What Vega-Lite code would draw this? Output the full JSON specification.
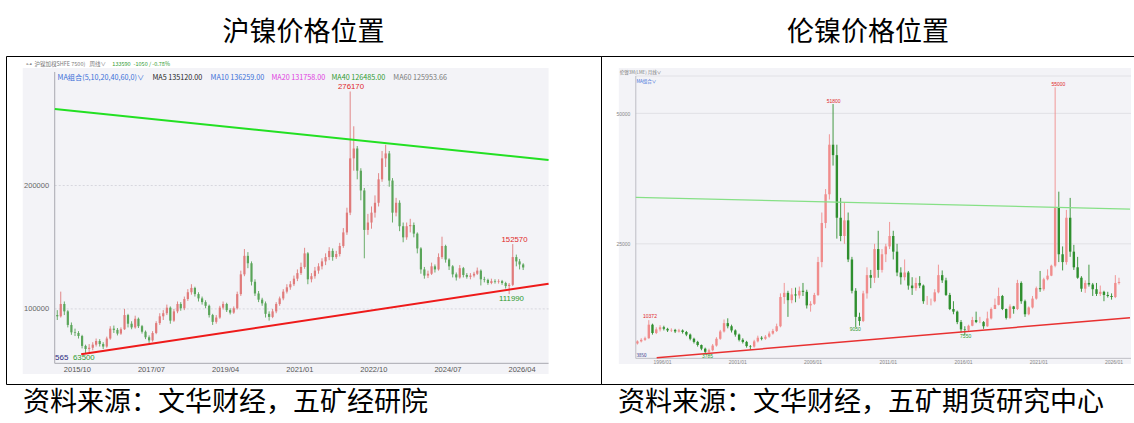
{
"$schema": "https://vega.github.io/schema/vega-lite/v6.json",
"padding": {"left": 5, "top": 9, "right": 0, "bottom": 0},
"background": "white",
"config": {"view": {"stroke": "#000", "strokeWidth": 1}, "concat": {"spacing": 0}, "axis": {"labelFont": "Liberation Sans", "zindex": 1}, "text": {"font": "Liberation Sans"}},
"datasets": {
"L": [
{"d":"2015/04/15","o":95000,"h":99000,"l":91000,"c":94000},
{"d":"2015/05/15","o":94000,"h":114000,"l":93000,"c":104000},
{"d":"2015/06/15","o":104000,"h":106000,"l":95000,"c":98000},
{"d":"2015/07/15","o":98000,"h":99000,"l":85000,"c":87000},
{"d":"2015/08/15","o":87000,"h":89000,"l":79000,"c":81000},
{"d":"2015/09/15","o":81000,"h":84000,"l":78000,"c":80500},
{"d":"2015/10/15","o":80500,"h":82000,"l":76000,"c":78000},
{"d":"2015/11/15","o":78000,"h":79000,"l":68000,"c":70000},
{"d":"2015/12/15","o":70000,"h":71000,"l":63500,"c":67500},
{"d":"2016/01/15","o":67500,"h":71500,"l":65000,"c":68500},
{"d":"2016/02/15","o":68500,"h":73000,"l":66500,"c":71000},
{"d":"2016/03/15","o":71000,"h":76000,"l":69500,"c":74000},
{"d":"2016/04/15","o":74000,"h":75500,"l":69500,"c":71500},
{"d":"2016/05/15","o":71500,"h":73000,"l":67500,"c":69500},
{"d":"2016/06/15","o":69500,"h":77500,"l":68500,"c":76000},
{"d":"2016/07/15","o":76000,"h":86000,"l":75000,"c":84000},
{"d":"2016/08/15","o":84000,"h":86500,"l":80500,"c":83000},
{"d":"2016/09/15","o":83000,"h":84500,"l":78500,"c":80000},
{"d":"2016/10/15","o":80000,"h":85000,"l":79000,"c":83500},
{"d":"2016/11/15","o":83500,"h":100000,"l":83000,"c":95000},
{"d":"2016/12/15","o":95000,"h":96000,"l":85000,"c":88000},
{"d":"2017/01/15","o":88000,"h":90000,"l":83500,"c":85000},
{"d":"2017/02/15","o":85000,"h":94500,"l":84000,"c":92000},
{"d":"2017/03/15","o":92000,"h":93000,"l":84500,"c":86000},
{"d":"2017/04/15","o":86000,"h":87000,"l":80000,"c":81500},
{"d":"2017/05/15","o":81500,"h":82500,"l":75500,"c":77000},
{"d":"2017/06/15","o":77000,"h":78500,"l":72500,"c":74500},
{"d":"2017/07/15","o":74500,"h":82000,"l":73500,"c":80500},
{"d":"2017/08/15","o":80500,"h":90000,"l":79500,"c":88500},
{"d":"2017/09/15","o":88500,"h":96500,"l":87000,"c":94000},
{"d":"2017/10/15","o":94000,"h":99000,"l":91000,"c":96500},
{"d":"2017/11/15","o":96500,"h":103500,"l":95000,"c":101000},
{"d":"2017/12/15","o":101000,"h":102000,"l":88000,"c":90500},
{"d":"2018/01/15","o":90500,"h":100000,"l":89500,"c":98000},
{"d":"2018/02/15","o":98000,"h":106000,"l":96500,"c":104000},
{"d":"2018/03/15","o":104000,"h":105500,"l":98500,"c":100500},
{"d":"2018/04/15","o":100500,"h":110000,"l":99000,"c":108000},
{"d":"2018/05/15","o":108000,"h":116000,"l":106500,"c":113500},
{"d":"2018/06/15","o":113500,"h":120000,"l":111500,"c":117000},
{"d":"2018/07/15","o":117000,"h":118000,"l":110000,"c":112000},
{"d":"2018/08/15","o":112000,"h":113500,"l":106000,"c":108500},
{"d":"2018/09/15","o":108500,"h":110000,"l":103500,"c":105500},
{"d":"2018/10/15","o":105500,"h":107000,"l":100500,"c":102500},
{"d":"2018/11/15","o":102500,"h":103500,"l":93000,"c":95000},
{"d":"2018/12/15","o":95000,"h":96000,"l":87000,"c":89500},
{"d":"2019/01/15","o":89500,"h":95000,"l":88000,"c":93000},
{"d":"2019/02/15","o":93000,"h":102500,"l":92000,"c":101000},
{"d":"2019/03/15","o":101000,"h":106000,"l":99500,"c":104000},
{"d":"2019/04/15","o":104000,"h":105000,"l":97500,"c":99000},
{"d":"2019/05/15","o":99000,"h":100500,"l":95500,"c":97000},
{"d":"2019/06/15","o":97000,"h":102000,"l":96000,"c":100500},
{"d":"2019/07/15","o":100500,"h":114000,"l":99500,"c":112000},
{"d":"2019/08/15","o":112000,"h":131000,"l":110500,"c":128000},
{"d":"2019/09/15","o":128000,"h":148500,"l":126500,"c":143000},
{"d":"2019/10/15","o":143000,"h":146000,"l":133000,"c":137000},
{"d":"2019/11/15","o":137000,"h":138500,"l":119000,"c":122000},
{"d":"2019/12/15","o":122000,"h":124000,"l":110500,"c":112500},
{"d":"2020/01/15","o":112500,"h":114500,"l":105500,"c":107500},
{"d":"2020/02/15","o":107500,"h":109000,"l":102500,"c":104500},
{"d":"2020/03/15","o":104500,"h":106000,"l":93000,"c":96000},
{"d":"2020/04/15","o":96000,"h":98000,"l":90500,"c":93500},
{"d":"2020/05/15","o":93500,"h":100000,"l":92500,"c":98000},
{"d":"2020/06/15","o":98000,"h":105500,"l":96500,"c":104000},
{"d":"2020/07/15","o":104000,"h":110000,"l":102500,"c":108500},
{"d":"2020/08/15","o":108500,"h":116000,"l":107000,"c":114000},
{"d":"2020/09/15","o":114000,"h":120000,"l":112500,"c":117500},
{"d":"2020/10/15","o":117500,"h":122500,"l":115500,"c":120000},
{"d":"2020/11/15","o":120000,"h":127000,"l":118500,"c":124500},
{"d":"2020/12/15","o":124500,"h":132000,"l":122500,"c":129000},
{"d":"2021/01/15","o":129000,"h":137500,"l":127500,"c":134000},
{"d":"2021/02/15","o":134000,"h":149500,"l":132500,"c":145000},
{"d":"2021/03/15","o":145000,"h":146000,"l":120000,"c":124000},
{"d":"2021/04/15","o":124000,"h":129000,"l":121500,"c":126500},
{"d":"2021/05/15","o":126500,"h":134000,"l":124500,"c":131000},
{"d":"2021/06/15","o":131000,"h":137000,"l":128500,"c":134500},
{"d":"2021/07/15","o":134500,"h":141000,"l":132000,"c":138500},
{"d":"2021/08/15","o":138500,"h":145000,"l":135500,"c":142000},
{"d":"2021/09/15","o":142000,"h":150000,"l":139500,"c":147000},
{"d":"2021/10/15","o":147000,"h":149000,"l":139000,"c":142000},
{"d":"2021/11/15","o":142000,"h":147000,"l":140500,"c":144500},
{"d":"2021/12/15","o":144500,"h":153500,"l":142500,"c":151000},
{"d":"2022/01/15","o":151000,"h":165500,"l":149500,"c":162000},
{"d":"2022/02/15","o":162000,"h":182000,"l":160000,"c":178000},
{"d":"2022/03/15","o":178000,"h":276170,"l":176000,"c":222000},
{"d":"2022/04/15","o":222000,"h":248000,"l":212000,"c":230000},
{"d":"2022/05/15","o":230000,"h":232000,"l":205000,"c":212000},
{"d":"2022/06/15","o":212000,"h":214000,"l":188000,"c":196000},
{"d":"2022/07/15","o":196000,"h":198000,"l":141000,"c":164000},
{"d":"2022/08/15","o":164000,"h":177000,"l":160000,"c":170000},
{"d":"2022/09/15","o":170000,"h":183000,"l":165000,"c":178000},
{"d":"2022/10/15","o":178000,"h":192000,"l":174000,"c":186000},
{"d":"2022/11/15","o":186000,"h":210000,"l":183000,"c":205000},
{"d":"2022/12/15","o":205000,"h":228000,"l":203000,"c":222000},
{"d":"2023/01/15","o":222000,"h":233000,"l":215000,"c":226000},
{"d":"2023/02/15","o":226000,"h":228000,"l":199000,"c":204000},
{"d":"2023/03/15","o":204000,"h":206000,"l":170000,"c":178000},
{"d":"2023/04/15","o":178000,"h":190000,"l":175000,"c":186000},
{"d":"2023/05/15","o":186000,"h":188000,"l":163000,"c":167000},
{"d":"2023/06/15","o":167000,"h":170000,"l":154000,"c":158000},
{"d":"2023/07/15","o":158000,"h":170000,"l":156000,"c":167000},
{"d":"2023/08/15","o":167000,"h":173000,"l":162000,"c":168000},
{"d":"2023/09/15","o":168000,"h":170000,"l":158000,"c":161000},
{"d":"2023/10/15","o":161000,"h":162000,"l":145000,"c":149000},
{"d":"2023/11/15","o":149000,"h":150000,"l":128500,"c":132000},
{"d":"2023/12/15","o":132000,"h":134000,"l":124500,"c":127000},
{"d":"2024/01/15","o":127000,"h":131000,"l":125000,"c":128500},
{"d":"2024/02/15","o":128500,"h":137500,"l":127500,"c":134500},
{"d":"2024/03/15","o":134500,"h":136000,"l":129500,"c":132000},
{"d":"2024/04/15","o":132000,"h":145000,"l":131000,"c":142000},
{"d":"2024/05/15","o":142000,"h":158500,"l":140500,"c":151000},
{"d":"2024/06/15","o":151000,"h":152000,"l":137500,"c":140000},
{"d":"2024/07/15","o":140000,"h":141000,"l":131500,"c":134500},
{"d":"2024/08/15","o":134500,"h":135500,"l":125500,"c":128000},
{"d":"2024/09/15","o":128000,"h":129500,"l":123000,"c":125500},
{"d":"2024/10/15","o":125500,"h":135500,"l":124500,"c":133000},
{"d":"2024/11/15","o":133000,"h":134000,"l":125500,"c":127500},
{"d":"2024/12/15","o":127500,"h":129000,"l":124500,"c":126000},
{"d":"2025/01/15","o":126000,"h":129000,"l":124000,"c":127000},
{"d":"2025/02/15","o":127000,"h":130000,"l":125500,"c":128500},
{"d":"2025/03/15","o":128500,"h":133500,"l":127500,"c":131000},
{"d":"2025/04/15","o":131000,"h":132000,"l":119000,"c":124000},
{"d":"2025/05/15","o":124000,"h":126000,"l":121500,"c":123500},
{"d":"2025/06/15","o":123500,"h":124500,"l":119500,"c":121000},
{"d":"2025/07/15","o":121000,"h":124500,"l":120000,"c":122500},
{"d":"2025/08/15","o":122500,"h":124000,"l":120500,"c":122000},
{"d":"2025/09/15","o":122000,"h":124000,"l":120500,"c":122500},
{"d":"2025/10/15","o":122500,"h":123500,"l":119500,"c":121000},
{"d":"2025/11/15","o":121000,"h":122000,"l":116500,"c":118500},
{"d":"2025/12/15","o":118500,"h":121000,"l":111990,"c":119500},
{"d":"2026/01/15","o":119500,"h":152570,"l":118500,"c":142000},
{"d":"2026/02/15","o":142000,"h":144000,"l":134500,"c":138500},
{"d":"2026/03/15","o":138500,"h":140500,"l":132000,"c":136000},
{"d":"2026/04/15","o":136000,"h":137000,"l":131500,"c":133590}
],
"R": [
{"d":"1994/05/15","o":5900,"h":6500,"l":5700,"c":6300},
{"d":"1994/08/15","o":6300,"h":6900,"l":6100,"c":6600},
{"d":"1994/11/15","o":6600,"h":7200,"l":6400,"c":6900},
{"d":"1995/02/15","o":6900,"h":10372,"l":6800,"c":9500},
{"d":"1995/05/15","o":9500,"h":9700,"l":7600,"c":7900},
{"d":"1995/08/15","o":7900,"h":9000,"l":7700,"c":8600},
{"d":"1995/11/15","o":8600,"h":9400,"l":8200,"c":9000},
{"d":"1996/02/15","o":9000,"h":9300,"l":8400,"c":8700},
{"d":"1996/05/15","o":8700,"h":8900,"l":8100,"c":8400},
{"d":"1996/08/15","o":8400,"h":8800,"l":8100,"c":8500},
{"d":"1996/11/15","o":8500,"h":8700,"l":7900,"c":8200},
{"d":"1997/02/15","o":8200,"h":8700,"l":8000,"c":8400},
{"d":"1997/05/15","o":8400,"h":8600,"l":7800,"c":8100},
{"d":"1997/08/15","o":8100,"h":8300,"l":7300,"c":7600},
{"d":"1997/11/15","o":7600,"h":7800,"l":6500,"c":6800},
{"d":"1998/02/15","o":6800,"h":7000,"l":5900,"c":6200},
{"d":"1998/05/15","o":6200,"h":6400,"l":5300,"c":5600},
{"d":"1998/08/15","o":5600,"h":5700,"l":4600,"c":4900},
{"d":"1998/11/15","o":4900,"h":5100,"l":4000,"c":4300},
{"d":"1999/02/15","o":4300,"h":4900,"l":3785,"c":4600},
{"d":"1999/05/15","o":4600,"h":5800,"l":4400,"c":5500},
{"d":"1999/08/15","o":5500,"h":7100,"l":5300,"c":6800},
{"d":"1999/11/15","o":6800,"h":8500,"l":6600,"c":8200},
{"d":"2000/02/15","o":8200,"h":10500,"l":8000,"c":9800},
{"d":"2000/05/15","o":9800,"h":10720,"l":8800,"c":9200},
{"d":"2000/08/15","o":9200,"h":9500,"l":8000,"c":8400},
{"d":"2000/11/15","o":8400,"h":8600,"l":7200,"c":7600},
{"d":"2001/02/15","o":7600,"h":7800,"l":6300,"c":6600},
{"d":"2001/05/15","o":6600,"h":6900,"l":5900,"c":6200},
{"d":"2001/08/15","o":6200,"h":6400,"l":5100,"c":5400},
{"d":"2001/11/15","o":5400,"h":5600,"l":4700,"c":5300},
{"d":"2002/02/15","o":5300,"h":6600,"l":5100,"c":6300},
{"d":"2002/05/15","o":6300,"h":7400,"l":6100,"c":7000},
{"d":"2002/08/15","o":7000,"h":7300,"l":6500,"c":6800},
{"d":"2002/11/15","o":6800,"h":7500,"l":6600,"c":7200},
{"d":"2003/02/15","o":7200,"h":8200,"l":7000,"c":7800},
{"d":"2003/05/15","o":7800,"h":8700,"l":7600,"c":8300},
{"d":"2003/08/15","o":8300,"h":9700,"l":8100,"c":9200},
{"d":"2003/11/15","o":9200,"h":15500,"l":9000,"c":14800},
{"d":"2004/02/15","o":14800,"h":17500,"l":13500,"c":15600},
{"d":"2004/05/15","o":15600,"h":16000,"l":11000,"c":14200},
{"d":"2004/08/15","o":14200,"h":16500,"l":13600,"c":15300},
{"d":"2004/11/15","o":15300,"h":16600,"l":13800,"c":15100},
{"d":"2005/02/15","o":15100,"h":16800,"l":14500,"c":16000},
{"d":"2005/05/15","o":16000,"h":17500,"l":15000,"c":15800},
{"d":"2005/08/15","o":15800,"h":16200,"l":12600,"c":13200},
{"d":"2005/11/15","o":13200,"h":14000,"l":12000,"c":13500},
{"d":"2006/02/15","o":13500,"h":15600,"l":13300,"c":15200},
{"d":"2006/05/15","o":15200,"h":22500,"l":15000,"c":21500},
{"d":"2006/08/15","o":21500,"h":31000,"l":20500,"c":29000},
{"d":"2006/11/15","o":29000,"h":35500,"l":28000,"c":34500},
{"d":"2007/02/15","o":34500,"h":46000,"l":33500,"c":44000},
{"d":"2007/05/15","o":44000,"h":51800,"l":40000,"c":42000},
{"d":"2007/08/15","o":42000,"h":44000,"l":26000,"c":30000},
{"d":"2007/11/15","o":30000,"h":33800,"l":25500,"c":26500},
{"d":"2008/02/15","o":26500,"h":33000,"l":25000,"c":29500},
{"d":"2008/05/15","o":29500,"h":31000,"l":21500,"c":22000},
{"d":"2008/08/15","o":22000,"h":22500,"l":15500,"c":16000},
{"d":"2008/11/15","o":16000,"h":16500,"l":9050,"c":11000},
{"d":"2009/02/15","o":11000,"h":11800,"l":9300,"c":10200},
{"d":"2009/05/15","o":10200,"h":16000,"l":10000,"c":15500},
{"d":"2009/08/15","o":15500,"h":20500,"l":14500,"c":19000},
{"d":"2009/11/15","o":19000,"h":20000,"l":16500,"c":18500},
{"d":"2010/02/15","o":18500,"h":25000,"l":17500,"c":24000},
{"d":"2010/05/15","o":24000,"h":27500,"l":18500,"c":20000},
{"d":"2010/08/15","o":20000,"h":24000,"l":19500,"c":23000},
{"d":"2010/11/15","o":23000,"h":25000,"l":21500,"c":24500},
{"d":"2011/02/15","o":24500,"h":29200,"l":24000,"c":26500},
{"d":"2011/05/15","o":26500,"h":27500,"l":22000,"c":23500},
{"d":"2011/08/15","o":23500,"h":25000,"l":18800,"c":19500},
{"d":"2011/11/15","o":19500,"h":20500,"l":17200,"c":18600},
{"d":"2012/02/15","o":18600,"h":22000,"l":18000,"c":19500},
{"d":"2012/05/15","o":19500,"h":19800,"l":16200,"c":17000},
{"d":"2012/08/15","o":17000,"h":18600,"l":15200,"c":16500},
{"d":"2012/11/15","o":16500,"h":18500,"l":16000,"c":17500},
{"d":"2013/02/15","o":17500,"h":18800,"l":16500,"c":17000},
{"d":"2013/05/15","o":17000,"h":17200,"l":13500,"c":14000},
{"d":"2013/08/15","o":14000,"h":15000,"l":13300,"c":14000},
{"d":"2013/11/15","o":14000,"h":14500,"l":13200,"c":14000},
{"d":"2014/02/15","o":14000,"h":16300,"l":13800,"c":15700},
{"d":"2014/05/15","o":15700,"h":21000,"l":15500,"c":19000},
{"d":"2014/08/15","o":19000,"h":19900,"l":17500,"c":18000},
{"d":"2014/11/15","o":18000,"h":18500,"l":15000,"c":15200},
{"d":"2015/02/15","o":15200,"h":15600,"l":12300,"c":12500},
{"d":"2015/05/15","o":12500,"h":14000,"l":11500,"c":12000},
{"d":"2015/08/15","o":12000,"h":12200,"l":9600,"c":10000},
{"d":"2015/11/15","o":10000,"h":10400,"l":8000,"c":8600},
{"d":"2016/02/15","o":8600,"h":9200,"l":7550,"c":8500},
{"d":"2016/05/15","o":8500,"h":9500,"l":8200,"c":9300},
{"d":"2016/08/15","o":9300,"h":11000,"l":9200,"c":10400},
{"d":"2016/11/15","o":10400,"h":12000,"l":9800,"c":10000},
{"d":"2017/02/15","o":10000,"h":11000,"l":9800,"c":10000},
{"d":"2017/05/15","o":10000,"h":10200,"l":8700,"c":9200},
{"d":"2017/08/15","o":9200,"h":12000,"l":9100,"c":10700},
{"d":"2017/11/15","o":10700,"h":12800,"l":10500,"c":12500},
{"d":"2018/02/15","o":12500,"h":14500,"l":12500,"c":13300},
{"d":"2018/05/15","o":13300,"h":16600,"l":13200,"c":15000},
{"d":"2018/08/15","o":15000,"h":15200,"l":12300,"c":12500},
{"d":"2018/11/15","o":12500,"h":12600,"l":10500,"c":10800},
{"d":"2019/02/15","o":10800,"h":13400,"l":10600,"c":13000},
{"d":"2019/05/15","o":13000,"h":13100,"l":11600,"c":12500},
{"d":"2019/08/15","o":12500,"h":18100,"l":12300,"c":17500},
{"d":"2019/11/15","o":17500,"h":17800,"l":13500,"c":14000},
{"d":"2020/02/15","o":14000,"h":14300,"l":11000,"c":11500},
{"d":"2020/05/15","o":11500,"h":13000,"l":11300,"c":12800},
{"d":"2020/08/15","o":12800,"h":15000,"l":12600,"c":14500},
{"d":"2020/11/15","o":14500,"h":16800,"l":14300,"c":16500},
{"d":"2021/02/15","o":16500,"h":19800,"l":15800,"c":16300},
{"d":"2021/05/15","o":16300,"h":18500,"l":16000,"c":18200},
{"d":"2021/08/15","o":18200,"h":20100,"l":18000,"c":18900},
{"d":"2021/11/15","o":18900,"h":21000,"l":18800,"c":20800},
{"d":"2022/02/15","o":20800,"h":55000,"l":20500,"c":32000},
{"d":"2022/05/15","o":32000,"h":35000,"l":21500,"c":23000},
{"d":"2022/08/15","o":23000,"h":24500,"l":19900,"c":21500},
{"d":"2022/11/15","o":21500,"h":31500,"l":21000,"c":30000},
{"d":"2023/02/15","o":30000,"h":33800,"l":22500,"c":23500},
{"d":"2023/05/15","o":23500,"h":24800,"l":20000,"c":20500},
{"d":"2023/08/15","o":20500,"h":22500,"l":18300,"c":18500},
{"d":"2023/11/15","o":18500,"h":18800,"l":15800,"c":16400},
{"d":"2024/02/15","o":16400,"h":18000,"l":15600,"c":17500},
{"d":"2024/05/15","o":17500,"h":21000,"l":16800,"c":17200},
{"d":"2024/08/15","o":17200,"h":17500,"l":15000,"c":16300},
{"d":"2024/11/15","o":16300,"h":17500,"l":15000,"c":15400},
{"d":"2025/02/15","o":15400,"h":17000,"l":15000,"c":15800},
{"d":"2025/05/15","o":15800,"h":16000,"l":14000,"c":15200},
{"d":"2025/08/15","o":15200,"h":15800,"l":14700,"c":15000},
{"d":"2025/11/15","o":15000,"h":15500,"l":14300,"c":14800},
{"d":"2026/02/15","o":14800,"h":19000,"l":14600,"c":17500},
{"d":"2026/05/15","o":17500,"h":18500,"l":17200,"c":17700}
]
},
"columns": 2,
"spacing": 0,
"bounds": "flush",
"concat": [
 {"width": 595, "height": 47, "data": {"values": [{"t": "沪镍价格位置"}]},
  "mark": {"type": "text", "font": "Noto Sans CJK SC", "fontSize": 27, "color": "#000", "align": "center", "baseline": "middle"},
  "encoding": {"text": {"field": "t"}}},
 {"width": 534, "height": 47, "data": {"values": [{"t": "伦镍价格位置"}]},
  "mark": {"type": "text", "font": "Noto Sans CJK SC", "fontSize": 27, "color": "#000", "align": "center", "baseline": "middle"},
  "encoding": {"text": {"field": "t"}}},
 {"width": 595, "height": 328,
  "layer": [
   {"data": {"values": [{"d":"2014/06/21","d2":"2026/11/20","v":295200,"v2":47240}]},
    "mark": {"type": "rect", "fill": "#f3f3f7", "clip": true},
    "encoding": {
     "x": {"field": "d", "type": "temporal", "scale": {"domain": [{"year":2014,"month":3,"date":12},{"year":2028,"month":1,"date":3}], "nice": false},
      "axis": {"title": null, "orient": "bottom", "zindex": 2, "offset": -20.7, "domain": false, "ticks": false, "grid": false, "labelFontSize": 7.5, "labelColor": "#555", "labelPadding": 2, "labelFlush": false, "labelOverlap": false,
       "values": [{"year":2015,"month":10,"date":1},{"year":2017,"month":7,"date":1},{"year":2019,"month":4,"date":1},{"year":2021,"month":1,"date":1},{"year":2022,"month":10,"date":1},{"year":2024,"month":7,"date":1},{"year":2026,"month":4,"date":1}],
       "labelExpr": "timeFormat(datum.value, '%Y/%m')"}},
     "x2": {"field": "d2"},
     "y": {"field": "v", "type": "quantitative", "scale": {"domain": [39140, 304950], "nice": false, "zero": false},
      "axis": {"title": null, "orient": "left", "zindex": 2, "offset": -44.6, "domain": false, "ticks": false, "grid": false, "values": [100000, 200000], "format": "d", "labelFontSize": 7.5, "labelColor": "#666", "labelPadding": 2}},
     "y2": {"field": "v2"}}},
   {"data": {"values": [{"d":"2015/03/24","d2":"2026/11/20","v":100000},{"d":"2015/03/24","d2":"2026/11/20","v":200000}]},
    "mark": {"type": "rule", "stroke": "#cfcfd8", "strokeWidth": 0.8, "strokeDash": [2, 2], "clip": true},
    "encoding": {"x": {"field": "d", "type": "temporal"}, "x2": {"field": "d2"}, "y": {"field": "v", "type": "quantitative"}}},
   {"data": {"values": [{"d":"2015/03/24","v":55900,"v2":292000}]},
    "mark": {"type": "rule", "stroke": "#a9a9b0", "strokeWidth": 1, "clip": true},
    "encoding": {"x": {"field": "d", "type": "temporal"}, "y": {"field": "v", "type": "quantitative"}, "y2": {"field": "v2"}}},
   {"data": {"values": [{"d":"2015/03/24","d2":"2026/11/20","v":55900}]},
    "mark": {"type": "rule", "stroke": "#a9a9b0", "strokeWidth": 1, "clip": true},
    "encoding": {"x": {"field": "d", "type": "temporal"}, "x2": {"field": "d2"}, "y": {"field": "v", "type": "quantitative"}}},
   {"data": {"name": "L"},
    "mark": {"type": "rule", "strokeWidth": 0.9, "clip": true},
    "encoding": {"x": {"field": "d", "type": "temporal"}, "y": {"field": "l", "type": "quantitative"}, "y2": {"field": "h"},
     "color": {"condition": {"test": "datum.c >= datum.o", "value": "#e07b7b"}, "value": "#5aa55a"}}},
   {"data": {"name": "L"},
    "mark": {"type": "bar", "size": 2.2, "clip": true},
    "encoding": {"x": {"field": "d", "type": "temporal"}, "y": {"field": "o", "type": "quantitative"}, "y2": {"field": "c"},
     "color": {"condition": {"test": "datum.c >= datum.o", "value": "#e07b7b"}, "value": "#5aa55a"}}},
   {"data": {"values": [{"d":"2015/03/25","v":262000,"d2":"2026/11/20","v2":220700}]},
    "mark": {"type": "rule", "stroke": "#22e022", "strokeWidth": 2, "clip": true},
    "encoding": {"x": {"field": "d", "type": "temporal"}, "x2": {"field": "d2"}, "y": {"field": "v", "type": "quantitative"}, "y2": {"field": "v2"}}},
   {"data": {"values": [{"d":"2015/11/07","v":63200,"d2":"2026/11/20","v2":120400}]},
    "mark": {"type": "rule", "stroke": "#ee1a1a", "strokeWidth": 2, "clip": true},
    "encoding": {"x": {"field": "d", "type": "temporal"}, "x2": {"field": "d2"}, "y": {"field": "v", "type": "quantitative"}, "y2": {"field": "v2"}}},
   {"data": {"values": [
     {"d":"2014/07/16","v":298200,"t":"⊶","k":"gray"},
     {"d":"2014/10/01","v":298200,"t":"沪镍加权","k":"gray"},
     {"d":"2015/03/23","v":298200,"t":"(SHFE 7500)","k":"gray"},
     {"d":"2016/01/19","v":298200,"t":"周线∨","k":"gray"},
     {"d":"2016/08/02","v":298200,"t":"133590","k":"green"},
     {"d":"2017/02/01","v":298200,"t":"-1050 / -0.78%","k":"green"}]},
    "mark": {"type": "text", "font": "Noto Sans CJK SC", "fontSize": 5.5, "align": "left", "baseline": "middle", "clip": true},
    "encoding": {"x": {"field": "d", "type": "temporal"}, "y": {"field": "v", "type": "quantitative"}, "text": {"field": "t"},
     "color": {"field": "k", "type": "nominal", "legend": null, "scale": {"domain": ["gray","green","blue","black","magenta","red","navy"], "range": ["#7a7a7a","#2f9a2f","#3a6fd8","#1e1e1e","#e040e0","#e02828","#2a2a80"]}}}},
   {"data": {"values": [
     {"d":"2015/04/18","v":287300,"t":"MA组合(5,10,20,40,60,0)∨","k":"blue"},
     {"d":"2017/07/14","v":287300,"t":"MA5 135120.00","k":"black"},
     {"d":"2018/11/27","v":287300,"t":"MA10 136259.00","k":"blue"},
     {"d":"2020/05/05","v":287300,"t":"MA20 131758.00","k":"magenta"},
     {"d":"2021/10/05","v":287300,"t":"MA40 126485.00","k":"green"},
     {"d":"2023/03/22","v":287300,"t":"MA60 125953.66","k":"gray"}]},
    "mark": {"type": "text", "font": "Noto Sans CJK SC", "fontSize": 7.2, "align": "left", "baseline": "middle", "clip": true},
    "encoding": {"x": {"field": "d", "type": "temporal"}, "y": {"field": "v", "type": "quantitative"}, "text": {"field": "t"},
     "color": {"field": "k", "type": "nominal", "legend": null, "scale": {"domain": ["gray","green","blue","black","magenta","red","navy"], "range": ["#7a7a7a","#2f9a2f","#3a6fd8","#1e1e1e","#e040e0","#e02828","#2a2a80"]}}}},
   {"data": {"values": [
     {"d":"2022/03/22","v":279800,"t":"276170","k":"red"},
     {"d":"2026/01/30","v":156240,"t":"152570","k":"red"},
     {"d":"2026/01/04","v":108020,"t":"111990","k":"green"},
     {"d":"2015/11/30","v":60000,"t":"63500","k":"green"}]},
    "mark": {"type": "text", "fontSize": 7.8, "align": "center", "baseline": "middle", "clip": true},
    "encoding": {"x": {"field": "d", "type": "temporal"}, "y": {"field": "v", "type": "quantitative"}, "text": {"field": "t"},
     "color": {"field": "k", "type": "nominal", "legend": null, "scale": {"domain": ["gray","green","blue","black","magenta","red","navy"], "range": ["#7a7a7a","#2f9a2f","#3a6fd8","#1e1e1e","#e040e0","#e02828","#2a2a80"]}}}},
   {"data": {"values": [{"d":"2015/03/27","v":60200,"t":"565","k":"navy"}]},
    "mark": {"type": "text", "fontSize": 8, "align": "left", "baseline": "middle", "clip": true},
    "encoding": {"x": {"field": "d", "type": "temporal"}, "y": {"field": "v", "type": "quantitative"}, "text": {"field": "t"},
     "color": {"field": "k", "type": "nominal", "legend": null, "scale": {"domain": ["gray","green","blue","black","magenta","red","navy"], "range": ["#7a7a7a","#2f9a2f","#3a6fd8","#1e1e1e","#e040e0","#e02828","#2a2a80"]}}}}
  ]},
 {"width": 534, "height": 328,
  "layer": [
   {"data": {"values": [{"d":"1993/02/17","d2":"2027/03/01","v":58700,"v2":1960}]},
    "mark": {"type": "rect", "fill": "#f3f3f7", "clip": true},
    "encoding": {
     "x": {"field": "d", "type": "temporal", "scale": {"domain": [{"year":1992,"month":4,"date":12},{"year":2027,"month":2,"date":6}], "nice": false},
      "axis": {"title": null, "orient": "bottom", "zindex": 2, "offset": -25.7, "domain": false, "ticks": false, "grid": false, "labelFontSize": 5, "labelColor": "#888", "labelPadding": 1, "labelFlush": false, "labelOverlap": false,
       "values": [{"year":1996,"month":1,"date":1},{"year":2001,"month":1,"date":1},{"year":2006,"month":1,"date":1},{"year":2011,"month":1,"date":1},{"year":2016,"month":1,"date":1},{"year":2021,"month":1,"date":1},{"year":2026,"month":1,"date":1}],
       "labelExpr": "timeFormat(datum.value, '%Y/%m')"}},
     "x2": {"field": "d2"},
     "y": {"field": "v", "type": "quantitative", "scale": {"domain": [-1870, 61005], "nice": false, "zero": false},
      "axis": {"title": null, "orient": "left", "zindex": 2, "offset": -30.3, "domain": false, "ticks": false, "grid": false, "values": [25000, 50000], "format": "d", "labelFontSize": 5, "labelColor": "#888", "labelPadding": 1.5}},
     "y2": {"field": "v2"}}},
   {"data": {"values": [{"d":"1994/04/05","d2":"2027/03/01","v":25000},{"d":"1994/04/05","d2":"2027/03/01","v":50000},{"d":"1994/04/05","d2":"2027/03/01","v":57170}]},
    "mark": {"type": "rule", "stroke": "#dcdce2", "strokeWidth": 0.8, "clip": true},
    "encoding": {"x": {"field": "d", "type": "temporal"}, "x2": {"field": "d2"}, "y": {"field": "v", "type": "quantitative"}}},
   {"data": {"values": [{"d":"1994/04/05","v":3050,"v2":57170}]},
    "mark": {"type": "rule", "stroke": "#b0b0b8", "strokeWidth": 0.8, "clip": true},
    "encoding": {"x": {"field": "d", "type": "temporal"}, "y": {"field": "v", "type": "quantitative"}, "y2": {"field": "v2"}}},
   {"data": {"values": [{"d":"1994/04/05","d2":"2027/03/01","v":3050}]},
    "mark": {"type": "rule", "stroke": "#b0b0b8", "strokeWidth": 0.8, "clip": true},
    "encoding": {"x": {"field": "d", "type": "temporal"}, "x2": {"field": "d2"}, "y": {"field": "v", "type": "quantitative"}}},
   {"data": {"name": "R"},
    "mark": {"type": "rule", "strokeWidth": 0.9, "clip": true},
    "encoding": {"x": {"field": "d", "type": "temporal"}, "y": {"field": "l", "type": "quantitative"}, "y2": {"field": "h"},
     "color": {"condition": {"test": "datum.c >= datum.o", "value": "#f08c8c"}, "value": "#2f8f2f"}}},
   {"data": {"name": "R"},
    "mark": {"type": "bar", "size": 2.4, "clip": true},
    "encoding": {"x": {"field": "d", "type": "temporal"}, "y": {"field": "o", "type": "quantitative"}, "y2": {"field": "c"},
     "color": {"condition": {"test": "datum.c >= datum.o", "value": "#f08c8c"}, "value": "#2f8f2f"}}},
   {"data": {"values": [{"d":"1994/04/05","v":33920,"d2":"2027/02/06","v2":31670}]},
    "mark": {"type": "rule", "stroke": "#86e086", "strokeWidth": 1.2, "clip": true},
    "encoding": {"x": {"field": "d", "type": "temporal"}, "x2": {"field": "d2"}, "y": {"field": "v", "type": "quantitative"}, "y2": {"field": "v2"}}},
   {"data": {"values": [{"d":"1995/08/25","v":3170,"d2":"2027/02/06","v2":10830}]},
    "mark": {"type": "rule", "stroke": "#e83030", "strokeWidth": 1.5, "clip": true},
    "encoding": {"x": {"field": "d", "type": "temporal"}, "x2": {"field": "d2"}, "y": {"field": "v", "type": "quantitative"}, "y2": {"field": "v2"}}},
   {"data": {"values": [
     {"d":"2007/05/29","v":52440,"t":"51800","k":"red"},
     {"d":"2022/05/04","v":55640,"t":"55000","k":"red"},
     {"d":"1995/03/15","v":11220,"t":"10372","k":"red"},
     {"d":"2008/11/03","v":8670,"t":"9050","k":"green"},
     {"d":"1999/01/08","v":3550,"t":"3785","k":"green"},
     {"d":"2016/03/06","v":7330,"t":"7550","k":"green"}]},
    "mark": {"type": "text", "fontSize": 5, "align": "center", "baseline": "middle", "clip": true},
    "encoding": {"x": {"field": "d", "type": "temporal"}, "y": {"field": "v", "type": "quantitative"}, "text": {"field": "t"},
     "color": {"field": "k", "type": "nominal", "legend": null, "scale": {"domain": ["gray","green","blue","red","navy"], "range": ["#8a8a8a","#3a8a3a","#5a86e0","#e05050","#2a2a80"]}}}},
   {"data": {"values": [
     {"d":"1993/03/14","v":57800,"t":"伦镍3M(LME) 月线∨","k":"gray"},
     {"d":"1994/04/20","v":56000,"t":"MA组合∨","k":"blue"},
     {"d":"1994/04/20","v":3550,"t":"3850","k":"navy"}]},
    "mark": {"type": "text", "font": "Noto Sans CJK SC", "fontSize": 4.5, "align": "left", "baseline": "middle", "clip": true},
    "encoding": {"x": {"field": "d", "type": "temporal"}, "y": {"field": "v", "type": "quantitative"}, "text": {"field": "t"},
     "color": {"field": "k", "type": "nominal", "legend": null, "scale": {"domain": ["gray","green","blue","red","navy"], "range": ["#8a8a8a","#3a8a3a","#5a86e0","#e05050","#2a2a80"]}}}}
  ]},
 {"width": 595, "height": 42, "data": {"values": [{"t": "资料来源：文华财经，五矿经研院"}]},
  "mark": {"type": "text", "font": "Noto Sans CJK SC", "fontSize": 27, "color": "#000", "align": "left", "baseline": "middle", "dx": -280.5, "dy": -2},
  "encoding": {"text": {"field": "t"}}},
 {"width": 534, "height": 42, "data": {"values": [{"t": "资料来源：文华财经，五矿期货研究中心"}]},
  "mark": {"type": "text", "font": "Noto Sans CJK SC", "fontSize": 27, "color": "#000", "align": "left", "baseline": "middle", "dx": -250, "dy": -2},
  "encoding": {"text": {"field": "t"}}}
]
}
